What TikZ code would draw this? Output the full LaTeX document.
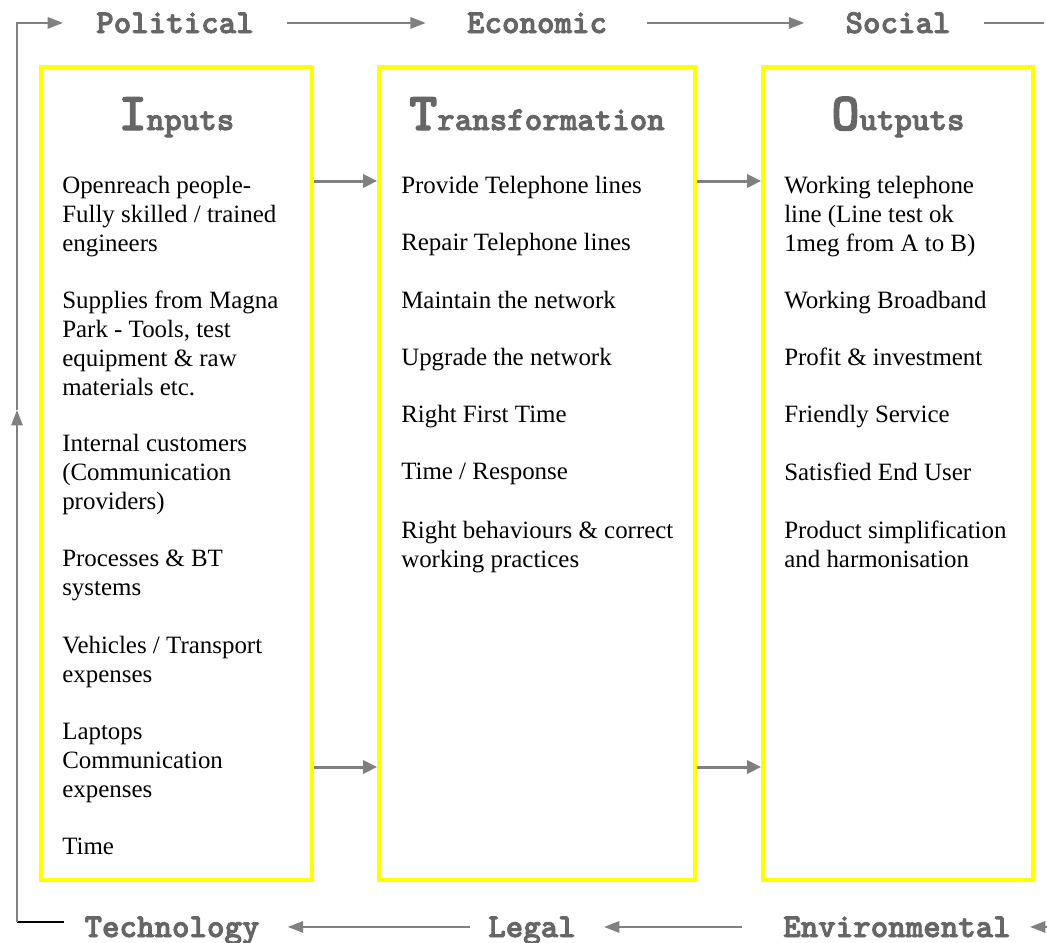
\documentclass[tikz,border=0pt]{standalone}
\usepackage{fontspec}
\setmainfont{Liberation Serif}
\newfontfamily\courierbold{lmmonolt10-bold}[Extension=.otf, FakeBold=2.5]
\usetikzlibrary{arrows.meta,positioning}

\definecolor{boxyellow}{RGB}{255,255,0}
\definecolor{labelgray}{RGB}{102,102,102}
\definecolor{arrowgray}{RGB}{128,128,128}

\newcommand{\bigletter}[1]{{\fontsize{40pt}{40pt}\selectfont #1}}

\begin{document}
\begin{tikzpicture}[x=0.75pt,y=-0.75pt]
% Estilos
\tikzset{
  stage/.style={rectangle, draw=boxyellow, line width=3pt, minimum height=609.75pt, inner sep=0pt},
  title/.style={anchor=base, inner sep=0pt, text=labelgray, font=\courierbold\fontsize{25pt}{25pt}\selectfont},
  item/.style={anchor=north west, align=left, inner sep=0pt, font=\fontsize{18.7pt}{21.56pt}\selectfont},
  pest/.style={anchor=base, inner sep=0pt, text=labelgray, font=\courierbold\fontsize{25pt}{25pt}\selectfont},
  link/.style={draw=arrowgray, line width=2.25pt, -{Triangle[length=10.5pt,width=10pt]}},
  frame/.style={draw=arrowgray, line width=1.5pt},
  framearrow/.style={frame, -{Triangle[length=11.5pt,width=8.5pt]}}
}
\useasboundingbox (0,0) rectangle (1047,943);

% Cajas principales
\node[stage, minimum width=203.25pt] (inputs) at (176.5,473.5) {};
\node[stage, minimum width=237pt] (transf) at (537,473.5) {};
\node[stage, minimum width=202.5pt] (outputs) at (898,473.5) {};

% Titulos
\node[title] (inputs-title) at (176.5,130) {\bigletter{I}nputs};
\node[title] (transf-title) at (537,130) {\bigletter{T}ransformation};
\node[title] (outputs-title) at (898,130) {\bigletter{O}utputs};

% Inputs
\node[item] (in1) at (62,176) {Openreach people-\\Fully skilled / trained\\engineers};
\node[item] (in2) at (62,291) {Supplies from Magna\\Park - Tools, test\\equipment \& raw\\materials etc.};
\node[item] (in3) at (62,434) {Internal customers\\(Communication\\providers)};
\node[item] (in4) at (62,550) {Processes \& BT\\systems};
\node[item] (in5) at (62,636) {Vehicles / Transport\\expenses};
\node[item] (in6) at (62,723) {Laptops\\Communication\\expenses};
\node[item] (in7) at (62,838) {Time};

% Transformation
\node[item] (tr1) at (401,176) {Provide Telephone lines};
\node[item] (tr2) at (401,233) {Repair Telephone lines};
\node[item] (tr3) at (401,291) {Maintain the network};
\node[item] (tr4) at (401,348) {Upgrade the network};
\node[item] (tr5) at (401,405) {Right First Time};
\node[item] (tr6) at (401,463) {Time / Response};
\node[item] (tr7) at (401,521) {Right behaviours \& correct\\working practices};

% Outputs
\node[item] (out1) at (784,176) {Working telephone\\line (Line test ok\\1meg from A to B)};
\node[item] (out2) at (784,291) {Working Broadband};
\node[item] (out3) at (784,348) {Profit \& investment};
\node[item] (out4) at (784,405) {Friendly Service};
\node[item] (out5) at (784,463) {Satisfied End User};
\node[item] (out6) at (784,521) {Product simplification\\and harmonisation};

% Flechas entre cajas
\draw[link] ([yshift=-87pt]inputs.north east) -- ([yshift=-87pt]transf.north west);
\draw[link] ([yshift=-87pt]transf.north east) -- ([yshift=-87pt]outputs.north west);
\draw[link] ([yshift=86.25pt]inputs.south east) -- ([yshift=86.25pt]transf.south west);
\draw[link] ([yshift=86.25pt]transf.south east) -- ([yshift=86.25pt]outputs.south west);

% PEST
\node[pest] (pol) at (175,33) {Political};
\node[pest] (eco) at (537,33) {Economic};
\node[pest] (soc) at (898,33) {Social};
\node[pest] (tech) at (172,937) {Technology};
\node[pest] (legal) at (532,937) {Legal};
\node[pest] (env) at (897,937) {Environmental};

\draw[framearrow] ([xshift=24.75pt,yshift=5.25pt]pol.mid east) -- ([xshift=-30.75pt,yshift=5.25pt]eco.mid west);
\draw[framearrow] ([xshift=30pt,yshift=5.25pt]eco.mid east) -- ([xshift=-30.75pt,yshift=5.25pt]soc.mid west);
\draw[frame] ([xshift=24.75pt,yshift=5.25pt]soc.mid east) -- ++(60,0);
\draw[framearrow] ([xshift=40pt,yshift=5.25pt]env.mid east) -- ([xshift=14.25pt,yshift=5.25pt]env.mid east);
\draw[framearrow] ([xshift=-30.75pt,yshift=5.25pt]env.mid west) -- ([xshift=21pt,yshift=5.25pt]legal.mid east);
\draw[framearrow] ([xshift=-13.5pt,yshift=5.25pt]legal.mid west) -- ([xshift=21pt,yshift=5.25pt]tech.mid east);

% Lazo izquierdo
\coordinate (loopstart) at (64,922);
\coordinate (loopcorner) at (17,922);
\coordinate (loopmid) at (17,410);
\draw[black, line width=1.5pt] (loopstart) -- (loopcorner);
\draw[framearrow] (loopcorner) -- (loopmid);
\draw[framearrow] (loopmid) |- ([xshift=-24.75pt,yshift=5.25pt]pol.mid west);
\end{tikzpicture}
\end{document}
